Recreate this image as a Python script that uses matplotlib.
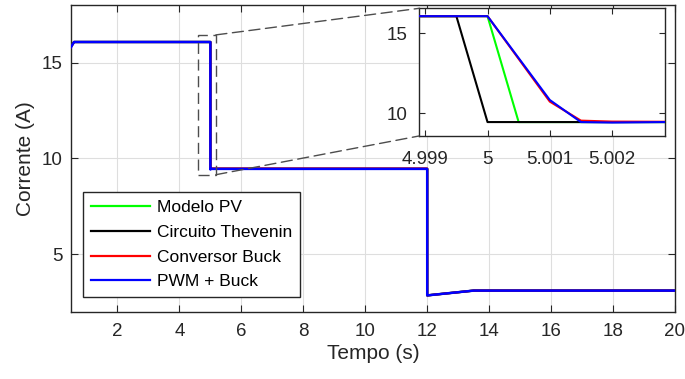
import matplotlib
matplotlib.use("Agg")
import matplotlib.pyplot as plt
from matplotlib.patches import Rectangle, ConnectionPatch

plt.rcParams['font.family'] = ['Liberation Sans', 'DejaVu Sans']

# ---- data ----
labels = ["Modelo PV", "Circuito Thevenin", "Conversor Buck", "PWM + Buck"]
colors = ["#00ff00", "#000000", "#ff0000", "#0000ff"]

t_pv = [0.5, 0.6, 5.0, 5.0005, 12.0, 12.0005, 13.5, 20.0]
i_pv = [15.85, 16.07, 16.07, 9.45, 9.45, 2.85, 3.1, 3.1]

t_th = [0.5, 0.6, 4.9995, 5.0, 12.0, 12.0005, 13.5, 20.0]
i_th = [15.85, 16.07, 16.07, 9.45, 9.45, 2.85, 3.1, 3.1]

t_buck = [0.5, 0.6, 5.0, 5.001, 5.0015, 5.002, 5.0028, 12.0, 12.001, 13.5, 20.0]
i_buck = [15.8, 16.07, 16.07, 10.73, 9.54, 9.48, 9.47, 9.47, 2.85, 3.1, 3.1]

t_pwm = [0.5, 0.6, 5.0, 5.001, 5.0015, 5.002, 5.0028, 12.0, 12.001, 13.5, 20.0]
i_pwm = [15.8, 16.07, 16.07, 10.83, 9.45, 9.42, 9.45, 9.45, 2.85, 3.1, 3.1]

series = [(t_pv, i_pv), (t_th, i_th), (t_buck, i_buck), (t_pwm, i_pwm)]

x_ticks = [2, 4, 6, 8, 10, 12, 14, 16, 18, 20]
y_ticks = [5, 10, 15]
inset_x_ticks = [4.999, 5.0, 5.001, 5.002]
inset_x_labels = ["4.999", "5", "5.001", "5.002"]
inset_y_ticks = [10, 15]

zoom_box = (4.606, 9.146, 5.177, 16.44)  # x0, y0, x1, y1

# ---- figure ----
fig = plt.figure(figsize=(6.85, 3.79), dpi=100)
ax = fig.add_axes([0.1036, 0.1776, 0.9854 - 0.1036, 0.9868 - 0.1776])

txt_c = (0.15, 0.15, 0.15)
spine_c = (0.15, 0.15, 0.15)
for k, ((t, i), c, lab) in enumerate(zip(series, colors, labels)):
    ax.plot(t, i, color=c, lw=1.6 if k < 3 else 1.8, label=lab, zorder=3 + k)

ax.set_xlim(0.5, 20)
ax.set_ylim(2, 18)
ax.set_xticks(x_ticks)
ax.set_yticks(y_ticks)
ax.grid(True, color=(0.87, 0.87, 0.87), lw=0.8)
ax.set_axisbelow(True)
ax.tick_params(direction='in', top=True, right=True, labelsize=13.5,
               colors=spine_c, labelcolor=txt_c, length=5)
ax.tick_params(axis='x', pad=8.2)
ax.tick_params(axis='y', pad=6.0)
for s in ax.spines.values():
    s.set_color(spine_c)
    s.set_linewidth(1.0)
ax.set_xlabel("Tempo (s)", fontsize=15, color=txt_c, labelpad=3)
ax.set_ylabel("Corrente (A)", fontsize=15, color=txt_c, labelpad=5)

leg = ax.legend(loc='lower left', bbox_to_anchor=(0.02, 0.047), fontsize=12.5,
                frameon=True, fancybox=False, framealpha=1, edgecolor=(0.15, 0.15, 0.15),
                handlelength=3.4, handletextpad=0.4, labelspacing=0.55, borderpad=0.45,
                borderaxespad=0)
leg.get_frame().set_linewidth(1.0)
for h in leg.get_lines():
    h.set_linewidth(1.6)

# zoom rectangle
dash = (0, (8, 4))
x0, y0, x1, y1 = zoom_box
ax.add_patch(Rectangle((x0, y0), x1 - x0, y1 - y0, fill=False,
                       edgecolor=(0.3, 0.3, 0.3), lw=1.0, linestyle=dash, zorder=10))

# inset
axi = fig.add_axes([0.6117, 0.6412, 0.9708 - 0.6117, 0.978 - 0.6412])
for k, ((t, i), c) in enumerate(zip(series, colors)):
    axi.plot(t, i, color=c, lw=1.5, zorder=3 + k)
axi.set_xlim(4.9989, 5.00285)
axi.set_ylim(8.58, 16.56)
axi.set_xticks(inset_x_ticks)
axi.set_xticklabels(inset_x_labels)
axi.set_yticks(inset_y_ticks)
axi.tick_params(direction='in', top=True, right=True, labelsize=13.5,
                colors=spine_c, labelcolor=txt_c, length=4)
axi.tick_params(axis='x', pad=11.0)
axi.tick_params(axis='y', pad=8.0)
for s in axi.spines.values():
    s.set_color(spine_c)
    s.set_linewidth(1.0)

# connectors
for ya, yb in [(y1, 1.0), (y0, 0.0)]:
    con = ConnectionPatch(xyA=(x1, ya), coordsA=ax.transData,
                          xyB=(0.0, yb), coordsB=axi.transAxes,
                          color=(0.3, 0.3, 0.3), lw=1.0, linestyle=dash)
    fig.add_artist(con)

fig.savefig("out.png", dpi=100)
